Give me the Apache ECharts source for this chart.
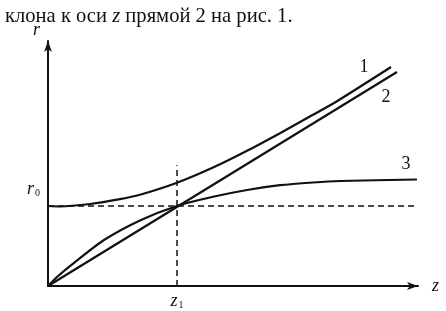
<!DOCTYPE html>
<html><head><meta charset="utf-8">
<script src="https://cdn.jsdelivr.net/npm/echarts@6/dist/echarts.min.js"></script>
<style>html,body{margin:0;padding:0;background:#fff}#c{width:446px;height:311px}</style>
</head><body><div id="c"></div>
<script>
// units: z in units of z1, r in units of r0
const curve1Z = [0, 0.093, 0.326, 0.558, 0.713, 1.0, 1.279, 1.543, 1.798, 2.054, 2.240, 2.659];
const curve1R = [1.0, 0.994, 1.025, 1.085, 1.14, 1.29, 1.48, 1.69, 1.91, 2.14, 2.31, 2.7375];
const line2Z = [0, 2.705];
const line2R = [0, 2.675];
const curve3Z = [0, 0.078, 0.202, 0.434, 0.713, 1.0, 1.279, 1.543, 1.798, 2.054, 2.264, 2.860];
const curve3R = [0, 0.125, 0.29, 0.575, 0.82, 1.0, 1.115, 1.2, 1.26, 1.294, 1.3125, 1.331];
const r0 = 1, z1 = 1;
const r0LineEndZ = 2.845;
const z1LineTopR = 1.51;
const seriesNames = ['1', '2', '3'];
const captionText = 'клона к оси {i|z} прямой 2 на рис. 1.';

const zip = (a, b) => a.map((v, i) => [v, b[i]]);
const serif = 'Liberation Serif';
const ink = '#111';
const endLbl = (off) => ({show: true, formatter: '{a}', color: ink, fontFamily: serif, fontSize: 18,
  align: 'center', verticalAlign: 'middle', distance: 0, offset: off});

const chart = echarts.init(document.getElementById('c'), null, {renderer: 'canvas'});
chart.setOption({
  animation: false,
  title: {text: captionText, left: 0, top: 1,
    textStyle: {fontFamily: serif, fontSize: 20.6, fontWeight: 'normal', color: ink,
      rich: {i: {fontFamily: serif, fontSize: 20.6, fontStyle: 'italic', color: ink}}}},
  grid: {left: 48, right: 28, top: 41, bottom: 25},
  xAxis: {type: 'value', min: 0, max: 2.868, interval: 1,
    name: 'z', nameLocation: 'end', nameGap: 14,
    nameTextStyle: {fontFamily: serif, fontStyle: 'italic', fontSize: 18, color: ink, verticalAlign: 'middle'},
    axisLine: {lineStyle: {color: ink, width: 2}, symbol: ['none', 'arrow'], symbolSize: [6, 11]},
    axisTick: {show: false}, splitLine: {show: false},
    axisLabel: {margin: 6, showMaxLabel: false,
      formatter: v => Math.abs(v - z1) < 1e-6 ? '{i|z}{s|1}' : '',
      rich: {i: {fontFamily: serif, fontStyle: 'italic', fontSize: 18, color: ink},
             s: {fontFamily: serif, fontSize: 10, color: ink, padding: [8, 0, 0, 1]}}}},
  yAxis: {type: 'value', min: 0, max: 3.0625, interval: 1,
    name: 'r', nameLocation: 'end', nameGap: 2,
    nameTextStyle: {fontFamily: serif, fontStyle: 'italic', fontSize: 18, color: ink, align: 'right', padding: [0, 8, 0, 0]},
    axisLine: {lineStyle: {color: ink, width: 2}, symbol: ['none', 'arrow'], symbolSize: [6, 11]},
    axisTick: {show: false}, splitLine: {show: false},
    axisLabel: {margin: 8, showMaxLabel: false, verticalAlign: 'bottom', padding: [0, 0, 8, 0],
      formatter: v => Math.abs(v - r0) < 1e-6 ? '{i|r}{s|0}' : '',
      rich: {i: {fontFamily: serif, fontStyle: 'italic', fontSize: 18, color: ink},
             s: {fontFamily: serif, fontSize: 10, color: ink, padding: [8, 0, 0, 1]}}}},
  series: [
    {name: seriesNames[0], type: 'line', smooth: 0.25, showSymbol: false, data: zip(curve1Z, curve1R),
      lineStyle: {color: ink, width: 2.2}, endLabel: endLbl([-27, 0])},
    {name: seriesNames[1], type: 'line', showSymbol: false, data: zip(line2Z, line2R),
      lineStyle: {color: ink, width: 2.2}, endLabel: endLbl([-11, 25])},
    {name: seriesNames[2], type: 'line', smooth: 0.25, showSymbol: false, data: zip(curve3Z, curve3R),
      lineStyle: {color: ink, width: 2.2}, endLabel: endLbl([-11, -15])},
    {type: 'line', showSymbol: false, data: [[0, r0], [r0LineEndZ, r0]],
      lineStyle: {color: ink, width: 1.5, type: [6, 4]}, z: 1},
    {type: 'line', showSymbol: false, data: [[z1, 0], [z1, z1LineTopR]],
      lineStyle: {color: ink, width: 1.5, type: [6, 4]}, z: 1}
  ]
});
</script></body></html>
